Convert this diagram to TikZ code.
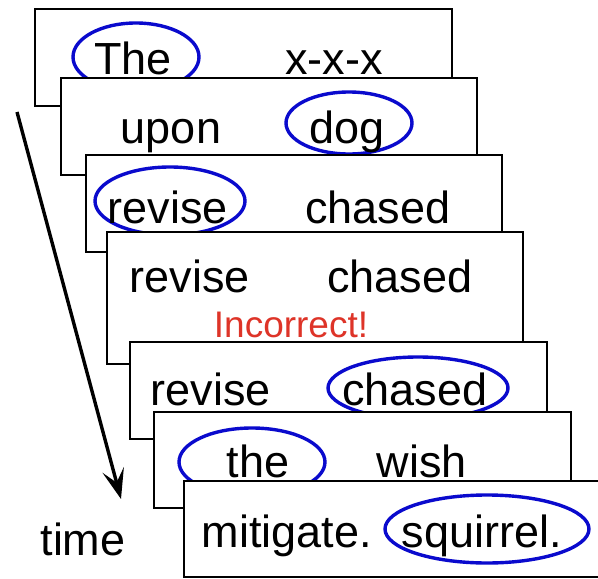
\documentclass[tikz,border=0pt]{standalone}
\usepackage{fontspec}
\setmainfont{Liberation Sans}
\usetikzlibrary{arrows.meta}
\definecolor{ovblue}{RGB}{10,10,205}
\definecolor{errred}{RGB}{222,52,40}
\tikzset{
  card/.style={draw=black, line width=2pt, fill=white},
  word/.style={anchor=base, inner sep=0pt, font=\fontsize{45}{50}\selectfont},
  redword/.style={anchor=base, inner sep=0pt, text=errred, font=\fontsize{37}{42}\selectfont},
  ring/.style={draw=ovblue, line width=3.4pt},
  timearrow/.style={line width=3.4pt, -{Stealth[length=30pt,width=22pt,inset=13pt]}}
}
\begin{document}
\begin{tikzpicture}[x=1pt,y=-1pt]
\useasboundingbox (0,0) rectangle (598,579);
% card 1
\draw[card] (35,9) rectangle (452,106);
\draw[ring] (136,57) ellipse [x radius=63, y radius=34];
\node[word] (w1a) at (133,74) {The};
\node[word] (w1b) at (334,74) {x-x-x};
% card 2
\draw[card] (61,78) rectangle (477,175);
\draw[ring] (349,123) ellipse [x radius=63, y radius=31];
\node[word] (w2a) at (171,143) {upon};
\node[word] (w2b) at (347,143) {dog};
% card 3
\draw[card] (86,155) rectangle (502,252);
\draw[ring] (170,201) ellipse [x radius=75, y radius=34];
\node[word] (w3a) at (168,223) {revise};
\node[word] (w3b) at (378,223) {chased};
% card 4
\draw[card] (107,232) rectangle (523,364);
\node[word] (w4a) at (190,292) {revise};
\node[word] (w4b) at (400,292) {chased};
\node[redword] (w4c) at (291,337) {Incorrect!};
% card 5
\draw[card] (130,342) rectangle (547,439);
\draw[ring] (418,388) ellipse [x radius=90, y radius=31];
\node[word] (w5a) at (211,405) {revise};
\node[word] (w5b) at (415,405) {chased};
% card 6
\draw[card] (154,412) rectangle (571,508);
\draw[ring] (252,462) ellipse [x radius=73, y radius=34];
\node[word] (w6a) at (258,477) {the};
\node[word] (w6b) at (422,477) {wish};
% card 7
\draw[card] (184,481) rectangle (601,577);
\draw[ring] (487,529) ellipse [x radius=102, y radius=34];
\node[word] (w7a) at (287,547) {mitigate.};
\node[word] (w7b) at (482,547) {squirrel.};
% time arrow
\coordinate (tstart) at (17,112);
\coordinate (tend) at (121,499);
\draw[timearrow] (tstart) -- (tend);
\node[word] (timelbl) at (83,555) {time};
\end{tikzpicture}
\end{document}
